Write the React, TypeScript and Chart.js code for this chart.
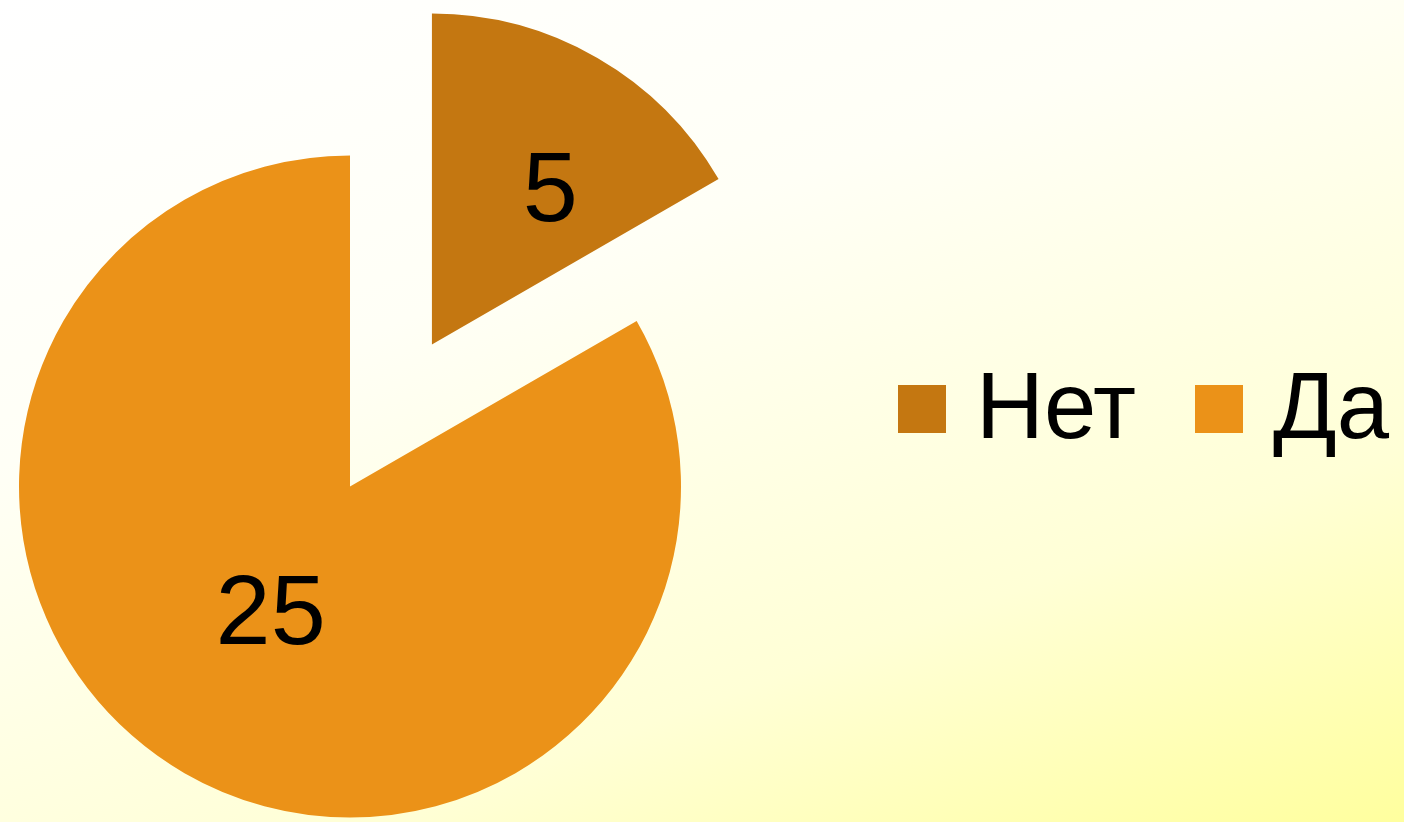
import React, { useEffect, useRef } from "react";
import { Chart, registerables } from "chart.js";

Chart.register(...registerables);

const categories = ["Нет", "Да"];
const values = [5, 25];
const colors = ["#C47711", "#EB9218"];
// exploded distance as a fraction of the radius
const explode = [0.495, 0];
// label placement inside each slice: [fraction along the slice angle, fraction of radius]
const labelPlacement = [
  [0.61, 0.6],
  [0.51, 0.44],
];

const FONT = "'Liberation Sans', Arial, sans-serif";

export default function App() {
  const canvasRef = useRef<HTMLCanvasElement | null>(null);

  useEffect(() => {
    document.body.style.margin = "0";
    const canvas = canvasRef.current;
    if (!canvas) return;

    const explodePlugin = {
      id: "explodeSlices",
      afterDatasetUpdate(chart: any, args: any) {
        const meta = chart.getDatasetMeta(args.index);
        meta.data.forEach((arc: any, i: number) => {
          const f = explode[i] || 0;
          if (!f) return;
          const mid = (arc.startAngle + arc.endAngle) / 2;
          const d = f * arc.outerRadius;
          arc.x += Math.cos(mid) * d;
          arc.y += Math.sin(mid) * d;
        });
      },
    };

    const labelPlugin = {
      id: "sliceLabels",
      afterDatasetsDraw(chart: any) {
        const ctx = chart.ctx;
        const meta = chart.getDatasetMeta(0);
        const size = 99;
        ctx.save();
        ctx.font = `${size}px ${FONT}`;
        ctx.fillStyle = "#000000";
        ctx.textAlign = "center";
        ctx.textBaseline = "alphabetic";
        meta.data.forEach((arc: any, i: number) => {
          const [fa, fr] = labelPlacement[i];
          const ang = arc.startAngle + fa * (arc.endAngle - arc.startAngle);
          const r = fr * arc.outerRadius;
          const x = arc.x + Math.cos(ang) * r;
          const y = arc.y + Math.sin(ang) * r;
          ctx.fillText(String(values[i]), x, y + size * 0.358);
        });
        ctx.restore();
      },
    };

    const chart = new Chart(canvas, {
      type: "pie",
      data: {
        labels: categories,
        datasets: [
          {
            data: values,
            backgroundColor: colors,
            borderWidth: 0,
            radius: 331,
            clip: false,
          } as any,
        ],
      },
      options: {
        animation: false,
        responsive: true,
        maintainAspectRatio: false,
        layout: { padding: { left: 0, right: 704, top: 151, bottom: 0 } },
        plugins: {
          legend: { display: false },
          tooltip: { enabled: false },
        },
      },
      plugins: [explodePlugin, labelPlugin],
    });

    return () => chart.destroy();
  }, []);

  return (
    <div
      style={{
        position: "relative",
        width: 1404,
        height: 822,
        overflow: "hidden",
        background:
          "linear-gradient(160deg, #ffffff 0%, #fffff6 35%, #ffffd6 72%, #ffff9e 100%)",
      }}
    >
      <canvas
        ref={canvasRef}
        style={{ position: "absolute", left: 0, top: 0, width: 1404, height: 822 }}
      />
      <div
        style={{
          position: "absolute",
          left: 898,
          top: 359,
          display: "flex",
          alignItems: "flex-start",
          fontFamily: FONT,
          fontSize: 94,
          lineHeight: "94px",
          color: "#000",
          whiteSpace: "nowrap",
        }}
      >
        {categories.map((c, i) => (
          <div
            key={c}
            style={{
              display: "flex",
              alignItems: "flex-start",
              marginRight: i < categories.length - 1 ? 59 : 0,
            }}
          >
            <span
              style={{
                display: "inline-block",
                width: 48,
                height: 48,
                marginTop: 26,
                marginRight: 30,
                background: colors[i],
              }}
            />
            <span>{c}</span>
          </div>
        ))}
      </div>
    </div>
  );
}
